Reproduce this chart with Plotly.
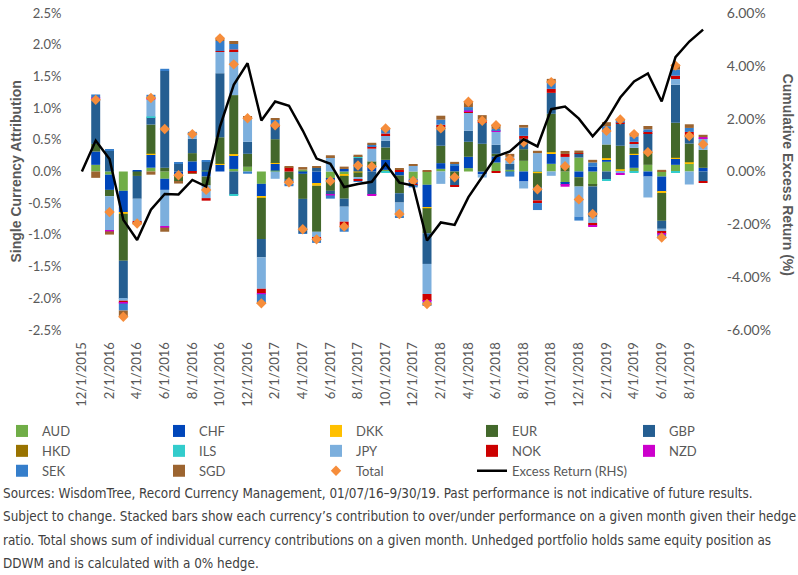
import plotly.graph_objects as go

months = ["12/1/2015", "1/1/2016", "2/1/2016", "3/1/2016", "4/1/2016", "5/1/2016", "6/1/2016",
          "7/1/2016", "8/1/2016", "9/1/2016", "10/1/2016", "11/1/2016", "12/1/2016",
          "1/1/2017", "2/1/2017", "3/1/2017", "4/1/2017", "5/1/2017", "6/1/2017",
          "7/1/2017", "8/1/2017", "9/1/2017", "10/1/2017", "11/1/2017", "12/1/2017",
          "1/1/2018", "2/1/2018", "3/1/2018", "4/1/2018", "5/1/2018", "6/1/2018",
          "7/1/2018", "8/1/2018", "9/1/2018", "10/1/2018", "11/1/2018", "12/1/2018",
          "1/1/2019", "2/1/2019", "3/1/2019", "4/1/2019", "5/1/2019", "6/1/2019",
          "7/1/2019", "8/1/2019", "9/1/2019"]

AUD = [None, .105, -.05, -.305, 0, .06, -.115, 0, 0, .015, 0, .04, .074, -.195, .015, 0, .03, 0, -.115, -.053,
       0, 0, .026, 0, -.115, -.21, .042, 0, .053, 0, .142, .026, .168, -.01, .121, -.18, .22, -.21, .153, .02,
       .058, .105, -.08, .105, .13, 0]
CHF = [None, .21, -.24, -.337, .015, .205, -.175, -.05, .16, -.08, .105, .22, 0, -.2, .105, 0, -.037, -.195, -.03, .04,
       0, .07, .158, -.063, -.09, -.353, .09, .09, .179, -.042, .095, 0, -.158, 0, .158, -.03, -.09, .074, .042, 0,
       .205, -.08, -.242, .095, 0, .058]
DKK = [None, 0, 0, -.026, 0, .015, 0, 0, 0, 0, .015, .015, 0, -.02, .015, 0, 0, -.03, 0, -.016,
       -.015, 0, 0, 0, 0, -.016, 0, 0, 0, 0, 0, 0, 0, -.016, .026, 0, 0, 0, .016, .016,
       .016, 0, -.016, .016, .016, 0]
EUR = [None, .12, -.1, -.74, -.07, .46, .06, -.11, .13, -.14, .42, .93, .205, -.65, .375, -.12, -.395, -.726, -.16, -.36,
       -.075, .09, .195, -.28, 0, -.395, .274, -.08, .237, .437, .042, 0, .184, -.22, .605, .09, -.147, -.026, .215, .37,
       .095, .21, -.44, .553, .295, .284]
GBP = [None, .69, .33, -.6, -.36, .115, 1.53, .12, .225, .14, 1.01, -.37, .19, -.29, .2, -.047, -.54, .063, -.063, -.126,
       .215, -.37, .105, -.147, 0, -.484, .305, -.142, .174, .337, .142, .095, .163, -.21, .33, 0, .058, -.48, -.13, .347,
       0, .29, -.126, .6, .13, -.15]
HKD = [None] + [0] * 45
ILS = [None, 0, 0, 0, 0, .015, 0, 0, 0, 0, 0, -.015, 0, 0, 0, 0, 0, 0, 0, 0,
       .02, 0, -.02, 0, 0, 0, 0, .01, 0, 0, 0, 0, 0, 0, 0, 0, 0, 0, -.016, 0,
       -.016, 0, 0, -.016, 0, 0]
JPY = [None, .03, -.54, -.03, -.36, .26, -.58, 0, .09, -.2, .34, .695, .37, -.495, -.115, -.04, 0, -.095, .226, -.237,
       -.04, .2, .09, -.22, .09, -.474, -.195, 0, .29, -.053, .216, .11, -.11, .29, -.068, .14, -.474, -.095, .205, -.026,
       .074, -.33, -.047, .09, -.205, .184]
NOK = [None, 0, 0, -.035, -.02, 0, 0, 0, -.025, -.04, .01, .026, .01, -.075, .02, .063, 0, -.03, 0, -.084,
       -.02, .037, .026, .03, -.016, -.11, .026, -.016, .02, .026, -.016, 0, .047, -.042, .063, .047, .01, -.042, .016, .016,
       .02, .03, -.03, .053, .053, -.016]
NZD = [None, .01, -.015, -.01, 0, .015, -.015, 0, 0, 0, 0, 0, 0, -.01, 0, 0, 0, 0, -.01, 0,
       0, -.015, 0, 0, 0, -.016, 0, 0, .01, 0, .016, 0, 0, 0, 0, -.03, 0, -.016, 0, -.02,
       0, 0, -.016, 0, 0, .016]
SEK = [None, .05, .01, -.11, 0, .065, .03, .015, .02, .015, .16, .085, -.035, -.135, .085, -.025, -.01, -.05, -.05, -.074,
       -.015, .03, .068, -.016, -.03, -.063, .08, .026, .053, .026, .02, -.08, .13, -.11, .105, 0, -.063, .068, .068, .037,
       .084, .03, -.058, .095, .063, 0]
SGD = [None, -.1, -.05, -.09, -.025, -.05, -.065, -.03, -.01, 0, .026, .047, .015, -.02, .015, .01, .04, .016, .03, .037,
       .03, .026, .02, .01, .016, .02, .063, .026, .084, .063, .063, .047, .042, .037, .053, .047, .042, .042, .063, .02,
       .037, .053, .026, .079, .058, .037]

TOTAL = [None, 1.13, -.64, -2.29, -.82, 1.16, .67, -.06, .59, -.29, 2.1, 1.69, .84, -2.08, .73, -.17, -.91, -1.07,
         -.15, -.87, .095, .08, .68, -.67, -.15, -2.09, .68, -.09, 1.1, .8, .73, .195, .46, -.28, 1.41, .084, -.44,
         -.67, .64, .82, .59, .305, -1.04, 1.67, .56, .43]
EXCESS = [0, 1.17, .47, -1.83, -2.59, -1.45, -.85, -.87, -.32, -.57, 1.7, 3.28, 4.1, 1.93, 2.65, 2.49, 1.55, .49,
          .29, -.59, -.47, -.39, .29, -.42, -.53, -2.61, -1.93, -2.02, -.97, -.19, .57, .76, 1.22, .95, 2.36, 2.46,
          2.0, 1.33, 1.93, 2.8, 3.41, 3.71, 2.65, 4.33, 4.92, 5.37]

currency_names = ["AUD", "CHF", "DKK", "EUR", "GBP", "HKD", "ILS", "JPY", "NOK", "NZD", "SEK", "SGD"]
currency_values = [AUD, CHF, DKK, EUR, GBP, HKD, ILS, JPY, NOK, NZD, SEK, SGD]
currency_colors = ["#70AD47", "#0046BA", "#FFC000", "#43682B", "#255E91", "#997300",
                   "#33CCCC", "#7CAFDD", "#CC0000", "#CC00CC", "#357ECB", "#9C6430"]
# legend column for each entry (5 columns, filled row by row)
legend_ids = ["legend", "legend2", "legend3", "legend4", "legend5"]

left_ticks = [-2.5, -2.0, -1.5, -1.0, -0.5, 0.0, 0.5, 1.0, 1.5, 2.0, 2.5]
right_ticks = [-6, -4, -2, 0, 2, 4, 6]
boundary_ticks = [-0.5 + 2 * j for j in range(24)]

FONT = "Lato, 'Open Sans', sans-serif"
TITLE_FONT = "'Liberation Sans', Arial, sans-serif"
GREY = "#595959"

fig = go.Figure()
for i, (name, vals, col) in enumerate(zip(currency_names, currency_values, currency_colors)):
    fig.add_trace(go.Bar(x=months, y=vals, name=name, legend=legend_ids[i % 5],
                         marker=dict(color=col, line=dict(width=0))))
fig.add_trace(go.Scatter(x=months, y=TOTAL, mode="markers", name="Total", legend=legend_ids[12 % 5],
                         marker=dict(symbol="diamond", size=8, color="#F68D3B")))
fig.add_trace(go.Scatter(x=months, y=EXCESS, mode="lines", name="Excess Return (RHS)", legend=legend_ids[13 % 5],
                         line=dict(color="black", width=2.5), yaxis="y2"))

pw = 798 - 75 - 88
ph = 575 - 13 - 245

def py(px):
    return -(px - 330) / ph

notes = [
    "Sources: WisdomTree, Record Currency Management, 01/07/16–9/30/19. Past performance is not indicative of future results.",
    "Subject to change. Stacked bars show each currency’s contribution to over/under performance on a given month given their hedge",
    "ratio. Total shows sum of individual currency contributions on a given month. Unhedged portfolio holds same equity position as",
    "DDWM and is calculated with a 0% hedge.",
]
note_y = [493, 516, 540, 563]
annotations = []
for t, yy in zip(notes, note_y):
    annotations.append(dict(text=t, xref="paper", yref="paper", x=(1 - 75) / pw, y=py(yy),
                            xanchor="left", yanchor="middle", showarrow=False,
                            font=dict(family="'DejaVu Sans Condensed', 'Liberation Sans', sans-serif",
                                      size=13.4, color="#404040")))
annotations.append(dict(text="<b>Single Currency Attribution</b>", xref="paper", yref="paper",
                        x=(15 - 75) / pw, y=0.5, textangle=-90, showarrow=False,
                        xanchor="center", yanchor="middle", font=dict(family=TITLE_FONT, size=14, color=GREY)))
annotations.append(dict(text="<b>Cumulative Excess Return (%)</b>", xref="paper", yref="paper",
                        x=(788 - 75) / pw, y=0.49, textangle=90, showarrow=False,
                        xanchor="center", yanchor="middle", font=dict(family=TITLE_FONT, size=14, color=GREY)))

legend_left_px = [2, 159, 316, 472, 629]
legend_style = dict(orientation="v", xref="container", yref="container", xanchor="left",
                    y=(575 - 416) / 575, yanchor="top", traceorder="normal",
                    font=dict(family=FONT, size=13, color=GREY), bgcolor="rgba(0,0,0,0)",
                    borderwidth=0)
legends = {}
for lid, lx in zip(legend_ids, legend_left_px):
    legends[lid] = dict(legend_style, x=lx / 798)

fig.update_layout(
    width=798, height=575,
    margin=dict(l=75, r=88, t=13, b=245, autoexpand=False),
    paper_bgcolor="white", plot_bgcolor="white",
    barmode="relative", bargap=0.35,
    font=dict(family=FONT, color=GREY),
    showlegend=True,
    xaxis=dict(type="category", range=[-0.5, 45.5], tickmode="array", tickvals=months[::2],
               tickangle=-90, tickfont=dict(family=FONT, size=13, color=GREY),
               ticks="outside", ticklen=6, tickcolor="rgba(0,0,0,0)",
               showline=False, showgrid=False, zeroline=False),
    xaxis2=dict(overlaying="x", anchor="free", position=0.5, range=[-0.5, 45.5],
                tickmode="array", tickvals=boundary_ticks, showticklabels=False,
                ticks="outside", ticklen=4, tickcolor="#D9D9D9", tickwidth=1,
                showline=True, linecolor="#D9D9D9", linewidth=1.5,
                showgrid=False, zeroline=False),
    yaxis=dict(range=[-2.5, 2.5], tickmode="array", tickvals=left_ticks,
               ticktext=[f"{v:.1f}%" for v in left_ticks],
               ticks="outside", ticklen=10, tickcolor="rgba(0,0,0,0)",
               tickfont=dict(family=FONT, size=13, color=GREY),
               showgrid=False, zeroline=False, showline=False),
    yaxis2=dict(overlaying="y", side="right", range=[-6, 6], tickmode="array", tickvals=right_ticks,
                ticktext=[f"{v:.2f}%" for v in right_ticks],
                ticks="outside", ticklen=13, tickcolor="rgba(0,0,0,0)",
                tickfont=dict(family=FONT, size=14, color=GREY),
                showgrid=False, zeroline=False, showline=False),
    annotations=annotations,
    **legends,
)

fig.write_html("out.html")
